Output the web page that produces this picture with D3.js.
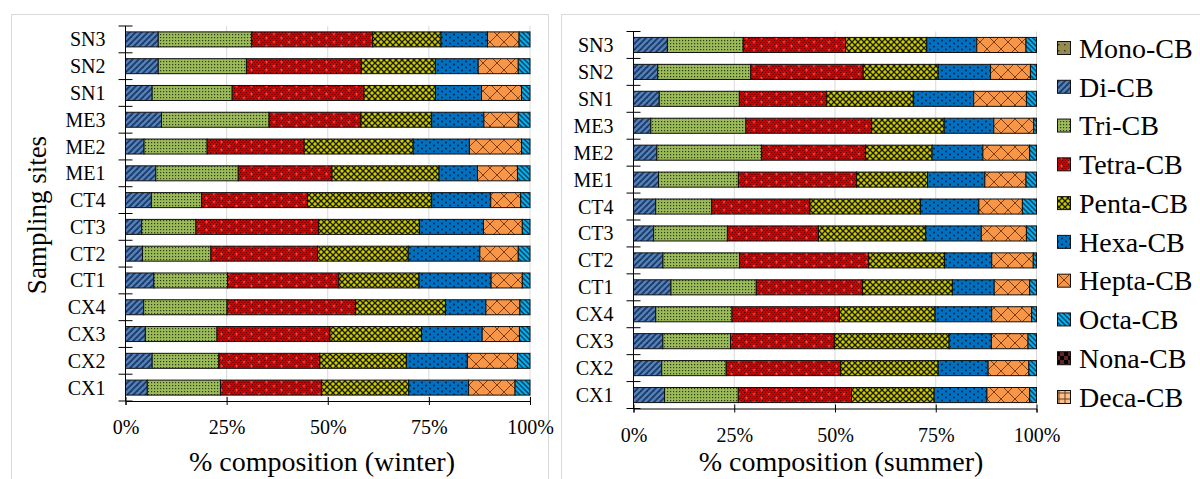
<!DOCTYPE html>
<html>
<head>
<meta charset="utf-8">
<script src="https://cdn.jsdelivr.net/npm/d3@7"></script>
<style>
  body { margin: 0; background: #fff; }
</style>
</head>
<body>
<div id="chart-area"></div>
<script>
// sites, top to bottom
const sites = ["SN3", "SN2", "SN1", "ME3", "ME2", "ME1", "CT4", "CT3", "CT2", "CT1", "CX4", "CX3", "CX2", "CX1"];
const groups = ["Mono-CB", "Di-CB", "Tri-CB", "Tetra-CB", "Penta-CB", "Hexa-CB", "Hepta-CB", "Octa-CB", "Nona-CB", "Deca-CB"];
const xTicks = [0, 0.25, 0.5, 0.75, 1];

// % composition per site, columns follow groups
const winterValues = [
    [0, 8.1, 23.1, 29.9, 16.9, 11.5, 7.8, 2.7, 0, 0],
    [0, 8.1, 21.8, 28.4, 18.3, 10.6, 9.9, 2.9, 0, 0],
    [0, 6.6, 19.8, 32.6, 17.7, 11.4, 9.9, 2.1, 0, 0],
    [0, 8.9, 26.6, 22.7, 17.5, 12.9, 8.5, 2.9, 0, 0],
    [0, 4.6, 15.6, 24.0, 27.0, 13.9, 12.9, 2.1, 0, 0],
    [0, 7.5, 20.4, 23.2, 26.5, 9.5, 9.9, 3.1, 0, 0],
    [0, 6.4, 12.4, 26.2, 30.7, 14.6, 7.4, 2.3, 0, 0],
    [0, 4.0, 13.4, 30.3, 25.0, 15.8, 9.6, 1.9, 0, 0],
    [0, 4.2, 16.9, 26.4, 22.4, 17.7, 9.5, 2.9, 0, 0],
    [0, 7.0, 18.2, 27.5, 19.8, 17.8, 7.7, 1.9, 0, 0],
    [0, 4.5, 20.6, 31.8, 22.2, 10.0, 8.4, 2.5, 0, 0],
    [0, 4.9, 17.7, 27.9, 22.6, 15.0, 9.2, 2.6, 0, 0],
    [0, 6.6, 16.5, 25.0, 21.4, 15.1, 12.4, 3.1, 0, 0],
    [0, 5.4, 18.1, 25.0, 21.6, 14.8, 11.5, 3.7, 0, 0]
];

const summerValues = [
    [0, 8.4, 18.8, 25.4, 20.1, 12.4, 12.2, 2.6, 0, 0],
    [0, 6.0, 23.1, 27.9, 18.6, 13.0, 9.9, 1.5, 0, 0],
    [0, 6.4, 19.9, 21.7, 21.5, 15.0, 13.1, 2.5, 0, 0],
    [0, 4.3, 23.6, 31.2, 18.0, 12.3, 9.9, 0.7, 0, 0],
    [0, 5.8, 26.0, 25.8, 16.5, 12.6, 11.6, 1.7, 0, 0],
    [0, 6.2, 19.8, 29.3, 17.6, 14.2, 10.2, 2.6, 0, 0],
    [0, 5.5, 13.9, 24.4, 27.4, 14.5, 10.8, 3.5, 0, 0],
    [0, 5.0, 18.3, 22.6, 26.6, 13.8, 11.2, 2.5, 0, 0],
    [0, 7.3, 19.0, 32.0, 18.8, 11.7, 10.3, 0.8, 0, 0],
    [0, 9.3, 21.2, 26.4, 22.3, 10.4, 8.8, 1.7, 0, 0],
    [0, 5.5, 18.9, 26.6, 23.7, 14.0, 9.9, 1.2, 0, 0],
    [0, 7.3, 16.8, 25.8, 28.5, 10.5, 9.1, 2.1, 0, 0],
    [0, 7.0, 16.0, 28.4, 24.2, 12.4, 10.1, 1.9, 0, 0],
    [0, 7.7, 18.3, 28.1, 20.5, 13.1, 10.6, 1.7, 0, 0]
];

const width = 1200;
const height = 479;
const serif = 'Liberation Serif';

const svg = d3.select('#chart-area')
    .append('svg')
    .attr('width', width)
    .attr('height', height)
    .attr('font-family', serif);

// ---- fill patterns ----
const defs = svg.append('defs');

function pattern(id, w, h, bg) {
    const p = defs.append('pattern')
        .attr('id', id)
        .attr('patternUnits', 'userSpaceOnUse')
        .attr('width', w)
        .attr('height', h);
    p.append('rect').attr('width', w).attr('height', h).attr('fill', bg);
    return p;
}

// Mono: olive with a dot
pattern('pat-0', 6, 6, '#948a54')
    .append('rect').attr('x', 2).attr('y', 2).attr('width', 1.5).attr('height', 1.5).attr('fill', '#3b3720');

// Di: blue, wide upward diagonal
const pDi = pattern('pat-1', 6, 6, '#4f81bd');
[[0, 6, 6, 0], [-1, 1, 1, -1], [5, 7, 7, 5]].forEach(l => {
    pDi.append('line').attr('x1', l[0]).attr('y1', l[1]).attr('x2', l[2]).attr('y2', l[3])
        .attr('stroke', '#1f3864').attr('stroke-width', 1.8);
});

// Tri: green with dark dots
const pTri = pattern('pat-2', 3, 3, '#9bbb59');
pTri.append('rect').attr('x', 1).attr('y', 1).attr('width', 1.2).attr('height', 1.2).attr('fill', '#2e3b12');

// Tetra: red, black fine dots, bright pluses
const pTe = pattern('pat-3', 15, 8, '#d40000');
d3.range(0, 15, 3).forEach(x => d3.range(0, 8, 2).forEach(y => {
    pTe.append('rect').attr('x', x + (y % 4 ? 1.5 : 0)).attr('y', y).attr('width', 1).attr('height', 1).attr('fill', '#300000');
}));
[[4, 2], [11.5, 6]].forEach(c => {
    pTe.append('path')
        .attr('d', `M${c[0] - 1.5},${c[1]}H${c[0] + 1.5}M${c[0]},${c[1] - 1.5}V${c[1] + 1.5}`)
        .attr('stroke', '#ff4040').attr('stroke-width', 1);
});

// Penta: yellow with black lattice
const pPe = pattern('pat-4', 6, 6, '#cccc00');
pPe.append('path').attr('d', 'M0,0L6,6M6,0L0,6')
    .attr('stroke', '#1a1a00').attr('stroke-width', 1.3);

// Hexa: blue with sparse black dots
const pHx = pattern('pat-5', 8, 6, '#0070c0');
[[2, 1.5], [6, 4.5]].forEach(c => {
    pHx.append('circle').attr('cx', c[0]).attr('cy', c[1]).attr('r', 0.9).attr('fill', '#001a33');
});

// Hepta: orange with wide crosshatch
const pHp = pattern('pat-6', 14, 14, '#f79646');
pHp.append('path').attr('d', 'M0,0L14,14M14,0L0,14')
    .attr('stroke', '#7a3e12').attr('stroke-width', 1);

// Octa: cyan, downward diagonal
const pOc = pattern('pat-7', 5, 5, '#00b0f0');
[[0, 0, 5, 5], [-1, 4, 1, 6], [4, -1, 6, 1]].forEach(l => {
    pOc.append('line').attr('x1', l[0]).attr('y1', l[1]).attr('x2', l[2]).attr('y2', l[3])
        .attr('stroke', '#173e5a').attr('stroke-width', 1.4);
});

// Nona: dark red with black checker
const pNo = pattern('pat-8', 8, 8, '#632523');
pNo.append('rect').attr('width', 4).attr('height', 4).attr('fill', '#000');
pNo.append('rect').attr('x', 4).attr('y', 4).attr('width', 4).attr('height', 4).attr('fill', '#000');

// Deca: light orange with plus grid
const pDe = pattern('pat-9', 6, 6, '#fac090');
pDe.append('path').attr('d', 'M3,0V6M0,3H6').attr('stroke', '#6b3a14').attr('stroke-width', 1);

// ---- panel frames ----
svg.append('rect')
    .attr('x', 11.5).attr('y', 14.5).attr('width', 537).attr('height', 480)
    .attr('fill', 'none').attr('stroke', '#d9d9d9');
svg.append('rect')
    .attr('x', 561.5).attr('y', 14.5).attr('width', 660).attr('height', 480)
    .attr('fill', 'none').attr('stroke', '#d9d9d9');

const stack = d3.stack()
    .keys(groups)
    .offset(d3.stackOffsetExpand);

function drawPanel(values, left, right, top, bottom, title, titleX) {
    const table = values.map((row, i) => {
        const o = { site: sites[i] };
        groups.forEach((k, j) => o[k] = row[j]);
        return o;
    });
    const series = stack(table);

    const x = d3.scaleLinear().domain([0, 1]).range([left, right]);
    const y = d3.scaleBand().domain(sites).range([top, bottom])
        .paddingInner(0.44).paddingOuter(0.22);

    const g = svg.append('g');

    // gridlines
    g.selectAll('.grid')
        .data(xTicks.slice(1))
        .enter()
        .append('line')
        .attr('x1', d => x(d)).attr('x2', d => x(d))
        .attr('y1', top).attr('y2', bottom)
        .attr('stroke', '#d9d9d9').attr('stroke-width', 1);

    // bars
    g.selectAll('.series')
        .data(series)
        .enter()
        .append('g')
        .attr('fill', (d, i) => `url(#pat-${i})`)
        .selectAll('rect')
        .data(d => d.filter(s => s[1] - s[0] > 0))
        .enter()
        .append('rect')
        .attr('x', d => x(d[0]))
        .attr('y', d => y(d.data.site))
        .attr('width', d => x(d[1]) - x(d[0]))
        .attr('height', y.bandwidth())
        .attr('stroke', '#111')
        .attr('stroke-width', 1);

    // vertical axis with ticks between categories
    const edges = d3.range(sites.length + 1).map(i => top + i * (bottom - top) / sites.length);
    g.append('line')
        .attr('x1', left).attr('x2', left)
        .attr('y1', top).attr('y2', bottom)
        .attr('stroke', '#000');
    g.selectAll('.ytick')
        .data(edges)
        .enter()
        .append('line')
        .attr('x1', left - 7).attr('x2', left + 7)
        .attr('y1', d => d).attr('y2', d => d)
        .attr('stroke', '#000');

    g.selectAll('.ylabel')
        .data(sites)
        .enter()
        .append('text')
        .attr('x', left - 20)
        .attr('y', d => y(d) + y.bandwidth() / 2)
        .attr('dy', '0.35em')
        .attr('text-anchor', 'end')
        .attr('font-family', serif)
        .attr('font-size', 20)
        .text(d => d);

    // horizontal axis
    const xAxis = d3.axisBottom(x)
        .tickValues(xTicks)
        .tickFormat(d3.format('.0%'))
        .tickSize(4)
        .tickPadding(15);
    const ax = g.append('g')
        .attr('transform', `translate(0, ${bottom})`)
        .call(xAxis)
        .attr('font-family', serif)
        .attr('font-size', 20);
    ax.select('.domain').attr('stroke', '#000');
    ax.selectAll('.tick line').attr('y1', -4).attr('stroke', '#000');
    ax.selectAll('.tick text').attr('fill', '#000');

    svg.append('text')
        .attr('x', titleX)
        .attr('y', 471)
        .attr('text-anchor', 'middle')
        .attr('font-family', serif)
        .attr('font-size', 28)
        .text(title);
}

drawPanel(winterValues, 125.5, 530, 26, 401, '% composition (winter)', 322);
drawPanel(summerValues, 633.5, 1036.5, 31.5, 408.5, '% composition (summer)', 841);

svg.append('text')
    .attr('transform', 'translate(46, 215) rotate(-90)')
    .attr('text-anchor', 'middle')
    .attr('font-family', serif)
    .attr('font-size', 27)
    .text('Sampling sites');

// legend
const legend = svg.append('g');
const ly = d3.scalePoint().domain(groups).range([48, 397]);
legend.selectAll('rect')
    .data(groups)
    .enter()
    .append('rect')
    .attr('x', 1057.5)
    .attr('y', d => ly(d) - 6.5)
    .attr('width', 13)
    .attr('height', 13)
    .attr('fill', (d, i) => `url(#pat-${i})`)
    .attr('stroke', '#111');
legend.selectAll('text')
    .data(groups)
    .enter()
    .append('text')
    .attr('x', 1079)
    .attr('y', d => ly(d))
    .attr('dy', '0.35em')
    .attr('font-family', serif)
    .attr('font-size', 28)
    .text(d => d);
</script>
</body>
</html>
